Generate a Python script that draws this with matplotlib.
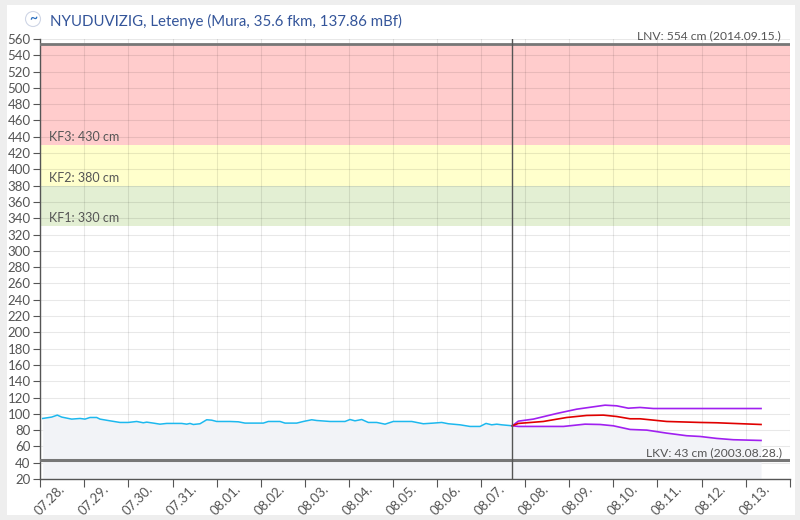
import matplotlib
matplotlib.use("Agg")
import matplotlib.pyplot as plt
from matplotlib.patches import Rectangle, Ellipse

plt.rcParams['font.family'] = ['Lato', 'DejaVu Sans']

# ---- data (x = days since 07.28. 00:00) ----
day_labels = ["07.28.", "07.29.", "07.30.", "07.31.", "08.01.", "08.02.", "08.03.",
              "08.04.", "08.05.", "08.06.", "08.07.", "08.08.", "08.09.", "08.10.",
              "08.11.", "08.12.", "08.13."]

obs_x = [0.054, 0.259, 0.386, 0.485, 0.712, 0.901, 1.014, 1.127, 1.279, 1.354, 1.581,
         1.808, 1.996, 2.187, 2.337, 2.414, 2.564, 2.715, 2.867, 3.208, 3.321, 3.396,
         3.471, 3.623, 3.775, 3.888, 4.002, 4.304, 4.492, 4.644, 5.059, 5.172, 5.438,
         5.551, 5.817, 5.967, 6.157, 6.270, 6.572, 6.912, 7.025, 7.139, 7.291, 7.441,
         7.632, 7.820, 8.008, 8.160, 8.426, 8.689, 8.916, 9.106, 9.256, 9.521, 9.748,
         9.975, 10.111, 10.240, 10.354, 10.467, 10.708]
obs_y = [94.3, 96.0, 98.4, 96.0, 93.5, 94.3, 93.5, 95.5, 95.5, 93.5, 91.4,
         89.4, 89.4, 90.6, 89.0, 89.8, 88.6, 87.3, 88.2, 88.2, 87.3, 88.2,
         86.9, 87.8, 92.7, 92.2, 90.6, 90.6, 90.2, 88.6, 88.6, 90.6, 90.6,
         88.6, 88.6, 90.6, 92.7, 91.8, 90.6, 90.6, 93.0, 91.4, 93.0, 89.4,
         89.4, 87.3, 90.6, 90.6, 90.6, 87.8, 88.6, 89.4, 87.8, 86.5, 84.5,
         84.5, 88.2, 86.5, 87.3, 86.5, 85.3]

up_x = [10.708, 10.844, 11.184, 11.715, 12.169, 12.811, 13.076, 13.339, 13.605, 13.907, 16.350]
up_y = [85.3, 91.0, 93.5, 100.4, 105.7, 110.6, 109.8, 106.9, 107.8, 106.5, 106.5]

mid_x = [10.708, 10.844, 11.411, 11.942, 12.395, 12.772, 13.076, 13.378, 13.605,
         14.210, 14.966, 15.345, 15.721, 16.350]
mid_y = [85.3, 88.2, 90.6, 95.5, 98.0, 98.4, 96.7, 93.9, 93.9, 90.6, 89.4, 89.0, 88.2, 86.9]

low_x = [10.708, 10.844, 11.866, 12.357, 12.697, 12.999, 13.378, 13.757, 14.210,
         14.664, 14.966, 15.345, 15.721, 16.350]
low_y = [85.3, 84.5, 84.5, 87.3, 86.9, 85.3, 80.8, 80.0, 76.3, 73.1, 72.2, 69.8, 68.2, 67.3]

now_x = 10.708
kf_levels = [330, 380, 430]
kf_labels = ["KF1: 330 cm", "KF2: 380 cm", "KF3: 430 cm"]
lnv = 554
lnv_label = "LNV: 554 cm (2014.09.15.)"
lkv = 43
lkv_label = "LKV: 43 cm (2003.08.28.)"
title = "NYUDUVIZIG, Letenye (Mura, 35.6 fkm, 137.86 mBf)"

# ---- figure ----
W, H = 800, 520
fig = plt.figure(figsize=(8, 5.2), dpi=100, facecolor="#eeeeee")
fig.patches.append(Rectangle((7 / W, 1 - 515 / H), (795 - 7) / W, (515 - 5) / H,
                             transform=fig.transFigure, facecolor="white",
                             edgecolor="none", zorder=-5))

ax = fig.add_axes([40.3 / W, 1 - 479 / H, (789.7 - 40.3) / W, (479 - 39) / H])
ax.set_zorder(1)
ax.set_facecolor("white")
ax.set_xlim(0, 17)
ax.set_ylim(20, 560)

# bands
ax.axhspan(kf_levels[0], kf_levels[1], color="#e3efd3", zorder=0.5, lw=0)
ax.axhspan(kf_levels[1], kf_levels[2], color="#ffffcc", zorder=0.5, lw=0)
ax.axhspan(kf_levels[2], lnv, color="#ffcccc", zorder=0.5, lw=0)

# grid
ax.set_yticks(range(20, 561, 20))
ax.set_xticks(range(0, 18))
ax.set_xticks([i + 0.5 for i in range(17)], minor=True)
ax.grid(True, which="major", color="#000000", alpha=0.09, lw=0.8, zorder=0.8)
ax.set_axisbelow(True)

# fill under data
ax.fill_between(obs_x, 20, obs_y, color="#f2f3f7", lw=0, zorder=1)
ax.fill_between(low_x, 20, low_y, color="#f2f3f7", lw=0, zorder=1)

ax.plot(obs_x, obs_y, color="#1db8ee", lw=1.1, zorder=3)
ax.plot(up_x, up_y, color="#a020f0", lw=1.2, zorder=3)
ax.plot(low_x, low_y, color="#a020f0", lw=1.2, zorder=3)
ax.plot(mid_x, mid_y, color="#e00000", lw=1.2, zorder=3)

# reference lines
ax.axhline(lnv, color="#777777", lw=2, zorder=4)
ax.axhline(lkv, color="#777777", lw=2.2, zorder=4)
ax.axvline(now_x, color="#555555", lw=1, zorder=4)

txtc = "#555555"
for lev, lab in zip(kf_levels, kf_labels):
    ax.annotate(lab, xy=(0, lev), xytext=(9, 2), textcoords="offset pixels",
                ha="left", va="bottom", fontsize=9, color=txtc, zorder=5)
ax.annotate(lnv_label, xy=(17, lnv), xytext=(-9, 3), textcoords="offset pixels",
            ha="right", va="bottom", fontsize=8.7, color=txtc, annotation_clip=False)
ax.annotate(lkv_label, xy=(17, lkv), xytext=(-8, 2), textcoords="offset pixels",
            ha="right", va="bottom", fontsize=8.7, color=txtc)

# axes styling
for s in ["top", "right"]:
    ax.spines[s].set_visible(False)
for s in ["left", "bottom"]:
    ax.spines[s].set_color("#555555")
    ax.spines[s].set_linewidth(1)
ax.tick_params(axis="y", which="major", length=5, color="#555555", labelsize=9.5,
               labelcolor="#555555", pad=2)
ax.tick_params(axis="x", which="major", length=6, color="#555555", labelbottom=False)
ax.tick_params(axis="x", which="minor", length=0, labelsize=9.5, labelcolor="#555555", pad=6)
ax.set_xticklabels(day_labels, minor=True, rotation=45, ha="right",
                   rotation_mode="anchor", va="center")

# title + icon
fig.text(50 / W, 1 - 21 / H, title, ha="left", va="center", fontsize=10.8,
         color="#34559a", zorder=3)
fig.patches.append(Ellipse((33 / W, 1 - 19 / H), 15 / W, 15 / H,
                           transform=fig.transFigure, facecolor="white",
                           edgecolor="#cfd6e6", lw=0.8, zorder=2))
fig.text(33 / W, 1 - 18 / H, "~", ha="center", va="center", fontsize=10,
         color="#2a6fc0", fontweight="bold", zorder=3)

fig.savefig("out.png", dpi=100, facecolor=fig.get_facecolor())
